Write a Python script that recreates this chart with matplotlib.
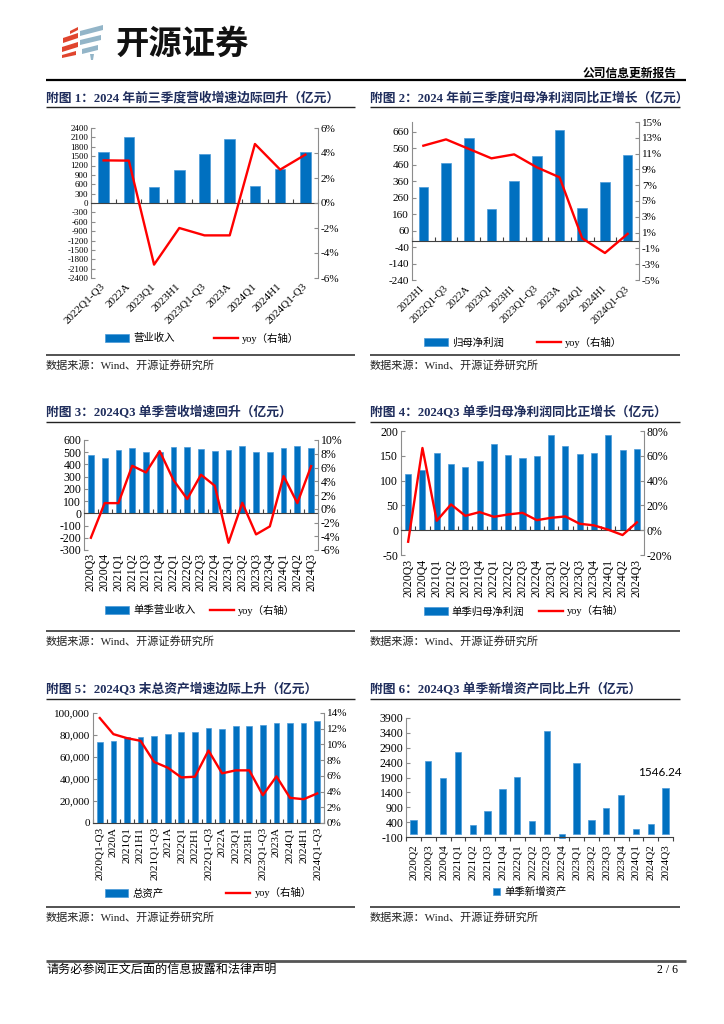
import numpy as np
import matplotlib
matplotlib.use("Agg")
import matplotlib.pyplot as plt
from matplotlib.lines import Line2D
from matplotlib.patches import Polygon
from matplotlib.ticker import FuncFormatter

plt.rcParams['font.family'] = ['Liberation Serif', 'Noto Sans CJK SC']
plt.rcParams['axes.unicode_minus'] = False

# ---- data ----
cats1 = ['2022Q1-Q3', '2022A', '2023Q1', '2023H1', '2023Q1-Q3', '2023A',
         '2024Q1', '2024H1', '2024Q1-Q3']
rev1 = [1621, 2112, 523, 1067, 1568, 2059, 544, 1088, 1632]
yoy1 = [3.41, 3.39, -4.93, -2.0, -2.59, -2.59, 4.72, 2.67, 3.87]

cats2 = ['2022H1', '2022Q1-Q3', '2022A', '2023Q1', '2023H1', '2023Q1-Q3',
         '2023A', '2024Q1', '2024H1', '2024Q1-Q3']
np2 = [326, 473, 625, 194, 364, 516, 674, 196, 356, 520]
yoy2 = [12.0, 12.8, 11.6, 10.4, 10.9, 9.26, 8.0, 0.27, -1.58, 0.84]

cats3 = ['2020Q3', '2020Q4', '2021Q1', '2021Q2', '2021Q3', '2021Q4',
         '2022Q1', '2022Q2', '2022Q3', '2022Q4', '2023Q1', '2023Q2',
         '2023Q3', '2023Q4', '2024Q1', '2024Q2', '2024Q3']
rev3 = [474, 455, 521, 537, 499, 505, 540, 543, 524, 513, 515, 548, 502,
        499, 537, 554, 532]
yoy3 = [-4.22, 0.82, 0.82, 6.25, 5.28, 8.39, 4.17, 1.41, 4.95, 3.35, -4.95,
        0.87, -3.73, -2.57, 4.75, 0.82, 6.2]

np4 = [113, 121, 156, 133, 127, 139, 173, 151, 145, 150, 191, 169, 154,
       156, 191, 162, 163]
yoy4 = [-9.3, 66.3, 7.6, 20.8, 11.6, 14.6, 10.8, 12.7, 14.0, 8.1, 10.0,
        11.1, 5.2, 3.9, 0.4, -3.9, 6.3]

cats5 = ['2020Q1-Q3', '2020A', '2021Q1', '2021H1', '2021Q1-Q3', '2021A',
         '2022Q1', '2022H1', '2022Q1-Q3', '2022A', '2023Q1', '2023H1',
         '2023Q1-Q3', '2023A', '2024Q1', '2024H1', '2024Q1-Q3']
assets5 = [73200, 74700, 78000, 78000, 79000, 80500, 82300, 82900, 86300,
           85400, 87800, 88400, 89000, 90500, 90500, 90900, 92700]
yoy5 = [13.36, 11.31, 10.8, 10.46, 7.77, 7.04, 5.8, 5.89, 9.22, 6.32, 6.7,
        6.7, 3.54, 5.93, 3.2, 3.03, 3.76]

cats6 = ['2020Q2'] + cats3
new6 = [482, 2443, 1882, 2756, 314, 773, 1501, 1927, 448, 3451, -130, 2398,
        471, 885, 1300, 168, 347, 1546.24]

titles = ['附图 1：2024 年前三季度营收增速边际回升（亿元）',
          '附图 2：2024 年前三季度归母净利润同比正增长（亿元）',
          '附图 3：2024Q3 单季营收增速回升（亿元）',
          '附图 4：2024Q3 单季归母净利润同比正增长（亿元）',
          '附图 5：2024Q3 末总资产增速边际上升（亿元）',
          '附图 6：2024Q3 单季新增资产同比上升（亿元）']
source = '数据来源：Wind、开源证券研究所'
yoy_name = 'yoy（右轴）'

BLUE = '#0070C0'
RED = '#FF0000'
NAVY = '#1F2D5C'
GRAY = '#8C8C8C'
AXC = '#404040'

W, H = 724, 1024
fig = plt.figure(figsize=(W / 100, H / 100), dpi=100)


def fx(x):
    return x / W


def fy(y):
    return 1 - y / H


def hline(y, x0, x1, lw=1.0, color='black'):
    fig.add_artist(Line2D([fx(x0), fx(x1)], [fy(y), fy(y)], lw=lw,
                          color=color, solid_capstyle='butt'))


def pct(v, pos):
    return f'{int(round(v))}%'


def panel(box, cats, bars, bar_name, ylim, yticks, yoy=None, rlim=None,
          rticks=None, base=0, rot=90, fs_l=8, fs_r=8, fs_x=8, xpad=2,
          yfmt=None, leg=(0, 0, 2), xtick_dir='in', square=False, clip=True):
    left, top, right, bottom = box
    ax = fig.add_axes([fx(left), fy(bottom), (right - left) / W, (bottom - top) / H])
    x = np.arange(len(cats))
    ax.bar(x, bars, width=0.42, color=BLUE, edgecolor='#4A9AD8',
           linewidth=0.5, label=bar_name, zorder=2, clip_on=clip)
    ax.set_xlim(-0.5, len(cats) - 0.5)
    ax.set_ylim(*ylim)
    ax.set_yticks(yticks)
    if yfmt is not None:
        ax.yaxis.set_major_formatter(yfmt)
    ax.spines[['top', 'right']].set_visible(False)
    ax.spines['left'].set_color(GRAY)
    ax.spines['bottom'].set_position(('data', base))
    ax.spines['bottom'].set_color(AXC)
    ax.set_xticks(np.arange(len(cats) + 1) - 0.5)
    ax.tick_params(axis='x', labelbottom=False, direction=xtick_dir,
                   length=3, color=AXC)
    ax.tick_params(axis='y', direction='in', length=3, color=GRAY,
                   labelsize=fs_l, pad=2)

    sec = ax.secondary_xaxis('bottom')
    if rot == 45:
        sec.set_xticks(x, labels=cats, rotation=45, ha='right', va='center',
                       rotation_mode='anchor')
    else:
        sec.set_xticks(x, labels=cats, rotation=90, ha='center', va='top')
    sec.tick_params(length=0, pad=xpad, labelsize=fs_x)
    for s in sec.spines.values():
        s.set_visible(False)

    h, l = ax.get_legend_handles_labels()
    if yoy is not None:
        ax2 = ax.twinx()
        ax2.plot(x, yoy, color=RED, lw=1.7, label=yoy_name, zorder=3)
        ax2.set_ylim(*rlim)
        ax2.set_yticks(rticks)
        ax2.yaxis.set_major_formatter(FuncFormatter(pct))
        ax2.spines[['top', 'left', 'bottom']].set_visible(False)
        ax2.spines['right'].set_color(GRAY)
        ax2.tick_params(axis='y', direction='in', length=3, color=GRAY,
                        labelsize=fs_r, pad=2)
        h2, l2 = ax2.get_legend_handles_labels()
        h += h2
        l += l2

    cx, cy, colsp = leg
    fig.legend(h, l, loc='center', bbox_to_anchor=(fx(cx), fy(cy)),
               ncol=2, frameon=False, fontsize=7.5,
               handlelength=0.7 if square else 2.3, handleheight=0.7,
               handletextpad=0.4, columnspacing=colsp, borderpad=0)
    return ax


# ---- header ----
red_bands = [[(70, 31), (78, 27), (78, 30), (70, 34)],
             [(63, 38), (78, 33), (78, 38), (63, 43)],
             [(62, 47), (78, 42), (78, 47), (62, 52)],
             [(62, 55), (76, 51), (76, 55), (62, 58)]]
blue_bands = [[(80, 31), (103, 25), (103, 30), (80, 36)],
              [(80, 40), (101, 35), (101, 40), (80, 45)],
              [(82, 49), (98, 45), (98, 50), (82, 54)],
              [(90, 54), (94, 54), (93, 60), (91, 60)]]
for band, col in [(b, '#E0452E') for b in red_bands] + [(b, '#93B5C8') for b in blue_bands]:
    fig.add_artist(Polygon([(fx(px), fy(py)) for px, py in band], closed=True,
                           color=col, transform=fig.transFigure, lw=0))
fig.text(fx(116), fy(44), '开源证券', fontsize=24, fontweight='bold',
         family=['Noto Sans CJK SC'], va='center', ha='left', color='#111111')
fig.text(fx(677), fy(74), '公司信息更新报告', fontsize=8.5, fontweight='bold',
         ha='right', va='center')
hline(80, 46, 686, lw=1.6)

# ---- titles, rules, sources ----
rows = [(98, 107, 355, 365), (413, 422, 631, 641), (690, 699, 907, 917)]
for i, (ty, uy, sy, st) in enumerate(rows):
    for j, (x0, x1) in enumerate([(46, 355), (370, 680)]):
        fig.text(fx(x0), fy(ty), titles[2 * i + j], fontsize=9.2,
                 fontweight='bold', color=NAVY, ha='left', va='center')
        hline(uy, x0, x1, lw=1.0, color='#222222')
        hline(sy, x0, x1, lw=1.3, color='#444444')
        fig.text(fx(x0), fy(st), source, fontsize=8, color='#222222',
                 ha='left', va='center')

# ---- charts ----
panel((91, 128, 318, 278), cats1, rev1, '营业收入',
      (-2400, 2400), np.arange(-2400, 2401, 300),
      yoy=yoy1, rlim=(-6, 6), rticks=np.arange(-6, 7, 2),
      rot=45, fs_l=6.5, fs_r=8, fs_x=8, xpad=5, leg=(202, 338, 3.8))

panel((412, 122, 639, 280), cats2, np2, '归母净利润',
      (-240, 720), np.arange(-240, 661, 100),
      yoy=yoy2, rlim=(-5, 15), rticks=np.arange(-5, 16, 2),
      rot=45, fs_l=8, fs_r=8, fs_x=7.5, xpad=5, leg=(523, 342, 3.2))

panel((84, 440, 318, 550), cats3, rev3, '单季营业收入',
      (-300, 600), np.arange(-300, 601, 100),
      yoy=yoy3, rlim=(-6, 10), rticks=np.arange(-6, 11, 2),
      rot=90, fs_l=8.5, fs_r=8.5, fs_x=8.5, xpad=2, leg=(200, 610, 1.4))

panel((401, 431, 644, 555), cats3, np4, '单季归母净利润',
      (-50, 200), np.arange(-50, 201, 50),
      yoy=yoy4, rlim=(-20, 80), rticks=np.arange(-20, 81, 20),
      rot=90, fs_l=8.5, fs_r=8.5, fs_x=8.5, xpad=3, leg=(524, 611, 1.4))

panel((93, 713, 324, 823), cats5, assets5, '总资产',
      (0, 100000), np.arange(0, 100001, 20000),
      yoy=yoy5, rlim=(0, 14), rticks=np.arange(0, 15, 2),
      rot=90, fs_l=8, fs_r=8, fs_x=8, xpad=3,
      yfmt=FuncFormatter(lambda v, p: f'{int(v):,}'), leg=(208, 893, 6.0))

ax6 = panel((406, 718, 673, 837), cats6, new6, '单季新增资产',
            (-100, 3900), np.arange(-100, 3901, 500), base=-100,
            rot=90, fs_l=8.5, fs_x=8, xpad=5, leg=(530, 892, 1.0),
            xtick_dir='out', square=True, clip=False)
ax6.annotate(f'{new6[-1]:.2f}', (len(new6) - 1, new6[-1]), xytext=(-4, 7),
             textcoords='offset points', ha='center', va='bottom',
             fontsize=8.5, family=['Lato'])

# ---- footer ----
hline(961, 46, 686, lw=2.0, color='#555555')
fig.text(fx(46), fy(970), '请务必参阅正文后面的信息披露和法律声明', fontsize=8.7,
         ha='left', va='center')
fig.text(fx(678), fy(970), '2 / 6', fontsize=8.5, ha='right', va='center')

fig.savefig('out.png', dpi=100)
